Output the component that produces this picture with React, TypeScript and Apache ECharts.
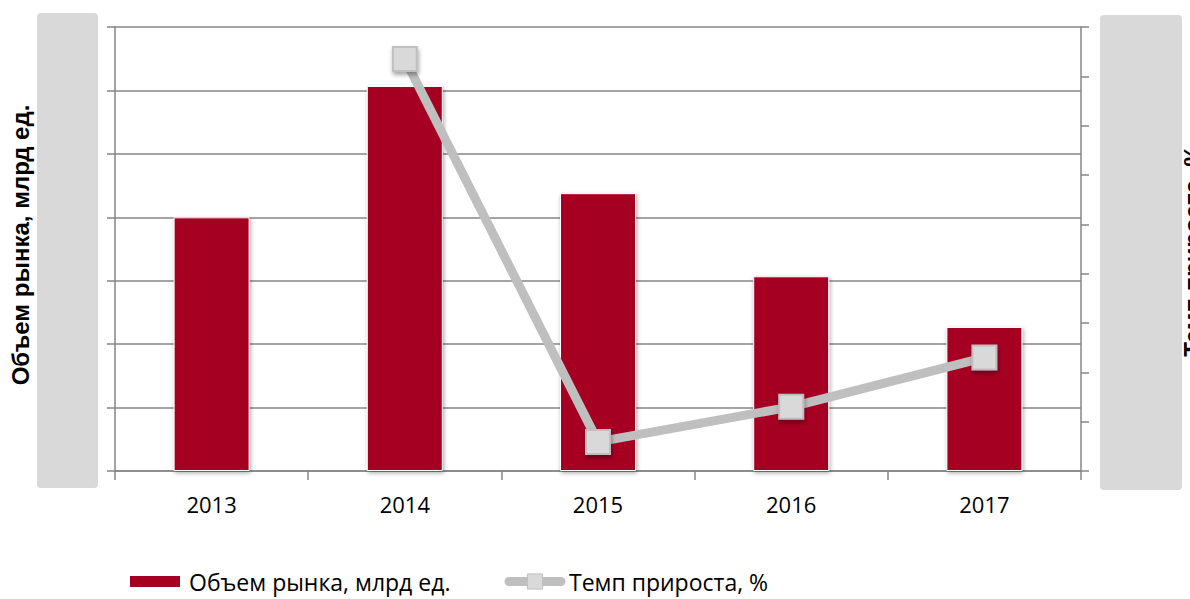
import React, { useEffect, useRef } from "react";
import * as echarts from "echarts";

const categories = ["2013", "2014", "2015", "2016", "2017"];
const marketVolume = [4.0, 6.07, 4.38, 3.07, 2.27];
const growthRate = [null, 43.5, -34.1, -27.0, -17.0];
const seriesNames = ["Объем рынка, млрд ед.", "Темп прироста, %"];
const leftTitle = "Объем рынка, млрд ед.";
const rightTitle = "Темп прироста, %";

export default function App() {
  const ref = useRef<HTMLDivElement>(null);
  useEffect(() => {
    if (!ref.current) return;
    const chart = echarts.init(ref.current, null, { renderer: "svg" });
    const axisGrey = "#868686";
    chart.setOption({
      animation: false,
      backgroundColor: "#fff",
      grid: { left: 115, right: 109, top: 27, bottom: 128, containLabel: false },
      graphic: [
        { type: "rect", shape: { x: 37, y: 13, width: 61, height: 475, r: 4 }, style: { fill: "#D9D9D9" }, z: -1 },
        { type: "rect", shape: { x: 1100, y: 15, width: 82, height: 475, r: 4 }, style: { fill: "#D9D9D9" }, z: -1 },
        {
          type: "text", x: 20, y: 245, rotation: Math.PI / 2,
          style: { text: leftTitle, font: "bold 24px 'Liberation Sans', Arial, sans-serif", fill: "#000", align: "center", verticalAlign: "middle" },
        },
        {
          type: "text", x: 1192, y: 251, rotation: Math.PI / 2,
          style: { text: rightTitle, font: "bold 24px 'Liberation Sans', Arial, sans-serif", fill: "#000", align: "center", verticalAlign: "middle" },
        },
      ],
      legend: {
        bottom: 6,
        left: 128,
        padding: 0,
        itemGap: 54,
        symbolKeepAspect: true,
        textStyle: { fontFamily: "'Open Sans', sans-serif", fontSize: 23, color: "#000", padding: [0, 0, 0, 3] },
        data: [
          { name: seriesNames[0], icon: "path://M0,0L52,0L52,13L0,13Z", itemStyle: { color: "#A50021" } },
          {
            name: seriesNames[1],
            lineStyle: { color: "#BFBFBF", width: 9, cap: "round" },
            itemStyle: { color: "#D9D9D9", borderColor: "#BFBFBF", borderWidth: 1 },
          },
        ],
        itemWidth: 52,
        itemHeight: 19,
      },
      xAxis: {
        type: "category",
        data: categories,
        axisLine: { lineStyle: { color: axisGrey, width: 1.5 } },
        axisTick: { show: true, length: 9, lineStyle: { color: axisGrey, width: 1.5 } },
        axisLabel: { fontFamily: "'Open Sans', sans-serif", fontSize: 22, color: "#000", margin: 22 },
      },
      yAxis: [
        {
          type: "value", min: 0, max: 7, interval: 1,
          axisLine: { show: true, lineStyle: { color: axisGrey, width: 1.5 } },
          axisTick: { show: true, length: 8, lineStyle: { color: axisGrey, width: 1.5 } },
          axisLabel: { show: false },
          splitLine: { show: true, lineStyle: { color: axisGrey, width: 1.5 } },
        },
        {
          type: "value", min: -40, max: 50, interval: 10, position: "right",
          axisLine: { show: true, lineStyle: { color: axisGrey, width: 1.5 } },
          axisTick: { show: true, length: 8, lineStyle: { color: axisGrey, width: 1.5 } },
          axisLabel: { show: false },
          splitLine: { show: false },
        },
      ],
      series: [
        {
          name: seriesNames[0],
          type: "bar",
          data: marketVolume,
          barWidth: 76,
          itemStyle: {
            color: "#A50021",
            borderColor: "#fff",
            borderWidth: 1,
            shadowBlur: 4,
            shadowColor: "rgba(0,0,0,0.35)",
            shadowOffsetX: 1,
            shadowOffsetY: 2,
          },
        },
        {
          name: seriesNames[1],
          type: "line",
          yAxisIndex: 1,
          data: growthRate,
          symbol: "rect",
          symbolSize: 24,
          lineStyle: { color: "#BFBFBF", width: 9 },
          itemStyle: {
            color: "#D9D9D9",
            borderColor: "#BFBFBF",
            borderWidth: 2,
            shadowBlur: 4,
            shadowColor: "rgba(0,0,0,0.35)",
            shadowOffsetX: 1,
            shadowOffsetY: 3,
          },
          z: 3,
        },
      ],
    });
    return () => chart.dispose();
  }, []);
  return <div ref={ref} style={{ width: 1190, height: 599, position: "absolute", left: 0, top: 0 }} />;
}
